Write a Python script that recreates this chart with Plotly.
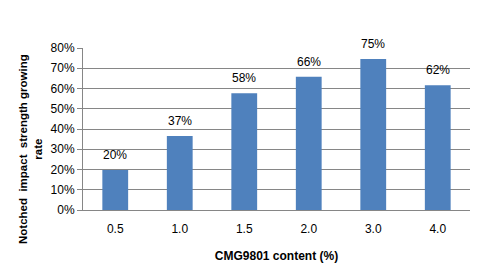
import plotly.graph_objects as go

categories = ["0.5", "1.0", "1.5", "2.0", "3.0", "4.0"]
growth_rate = [0.197, 0.366, 0.576, 0.658, 0.746, 0.616]
y_ticks = [0, 0.1, 0.2, 0.3, 0.4, 0.5, 0.6, 0.7, 0.8]

FONT = "Liberation Sans"
GRID = "#868686"

fig = go.Figure()
fig.add_trace(go.Bar(
    x=categories, y=growth_rate,
    marker=dict(color="#4F81BD", line=dict(width=0)),
    width=0.4,
    hoverinfo="skip",
))

for i, v in enumerate(growth_rate):
    fig.add_annotation(x=i, y=v, text=f"{v:.0%}", showarrow=False,
                       yshift=15, font=dict(family=FONT, size=12, color="black"))

fig.add_annotation(xref="paper", yref="paper", x=-0.137, y=0.5, xanchor="center", yanchor="middle",
                   text="<b>Notched  impact  strength growing</b><br><b>rate</b>",
                   textangle=-90, showarrow=False, yshift=-20,
                   font=dict(family=FONT, size=11.5, color="black"))

fig.update_layout(
    width=486, height=272,
    margin=dict(l=83, r=16, t=48, b=62),
    paper_bgcolor="white", plot_bgcolor="white",
    showlegend=False,
    font=dict(family=FONT, size=12, color="black"),
    xaxis=dict(
        type="category", showgrid=False, showline=True, linecolor=GRID, linewidth=1,
        ticks="", tickfont=dict(family=FONT, size=12), ticklabelstandoff=8,
        title=dict(text="<b>CMG9801 content (%)</b>", font=dict(family=FONT, size=12), standoff=16),
    ),
    yaxis=dict(
        range=[0, 0.8], tickvals=y_ticks, tickformat=".0%",
        showgrid=True, gridcolor=GRID, gridwidth=1,
        showline=True, linecolor=GRID, linewidth=1,
        ticks="outside", ticklen=5, tickcolor=GRID,
        tickfont=dict(family=FONT, size=12), zeroline=False,
    ),
)

fig.write_html("out.html")
